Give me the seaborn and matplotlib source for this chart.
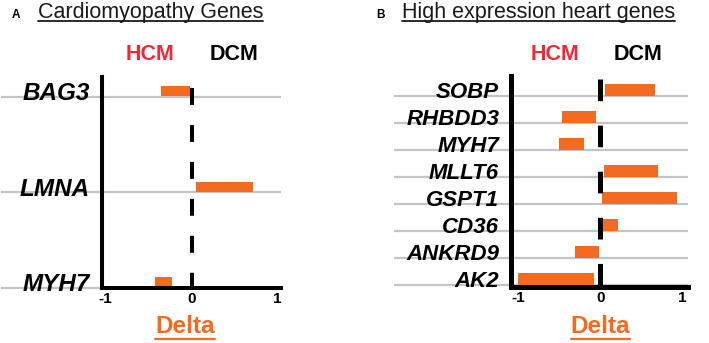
import matplotlib
matplotlib.use("Agg")
import matplotlib.pyplot as plt
import seaborn as sns
import pandas as pd
from matplotlib.lines import Line2D

# Panel A - cardiomyopathy genes (bars run from start to end on the Delta axis)
genes_a = ["BAG3", "LMNA", "MYH7"]
start_a = [-0.36, 0.05, -0.42]
end_a = [-0.02, 0.71, -0.23]

# Panel B - high expression heart genes
genes_b = ["SOBP", "RHBDD3", "MYH7", "MLLT6", "GSPT1", "CD36", "ANKRD9", "AK2"]
start_b = [0.06, -0.47, -0.50, 0.04, 0.02, 0.02, -0.31, -1.00]
end_b = [0.67, -0.05, -0.20, 0.70, 0.93, 0.21, -0.02, -0.08]

xticks = [-1, 0, 1]
xtick_labels = ["-1", "0", "1"]

sns.set_style("white")
plt.rcParams["font.family"] = ["Liberation Sans", "DejaVu Sans"]
plt.rcParams["lines.scale_dashes"] = False
plt.rcParams["text.color"] = "black"
plt.rcParams["xtick.color"] = "black"
plt.rcParams["ytick.color"] = "black"

ORANGE = "#F26B21"
RED = "#EE2A35"
GRAY = "#C4C4C4"

W, H = 709, 343
fig = plt.figure(figsize=(W / 100, H / 100), dpi=100)


def px_axes(left, top, right, bottom):
    return fig.add_axes([left / W, 1 - bottom / H, (right - left) / W, (bottom - top) / H])


def ftext(x, y, s, **kw):
    return fig.text(x / W, 1 - y / H, s, **kw)


def underline(t, y, color, lw):
    fig.canvas.draw()
    bb = t.get_window_extent(fig.canvas.get_renderer())
    fig.add_artist(Line2D([bb.x0 / W, bb.x1 / W], [1 - y / H, 1 - y / H],
                          color=color, lw=lw, transform=fig.transFigure))


def panel(ax, genes, start, end, xlim, ylim, bar_h, line_off, gray_x0,
          dash_y0, dash, lw, label_size):
    df = pd.DataFrame({"gene": genes, "start": start, "end": end})
    df["delta"] = df["end"] - df["start"]
    sns.barplot(data=df, x="delta", y="gene", order=genes, color=ORANGE,
                saturation=1, width=bar_h, errorbar=None, linewidth=0,
                left=df["start"].to_numpy(), ax=ax)
    ax.set_xlim(*xlim)
    ax.set_ylim(*ylim)
    # grey row lines reach out under the gene names
    ax.hlines([i + line_off for i in range(len(genes))], gray_x0, xlim[1],
              color=GRAY, lw=1.6, clip_on=False, zorder=0)
    ax.plot([0, 0], [dash_y0, ylim[0]], color="black", lw=lw, dashes=dash,
            clip_on=False, zorder=3)
    for s in ["top", "right"]:
        ax.spines[s].set_visible(False)
    for s in ["left", "bottom"]:
        ax.spines[s].set_linewidth(lw)
        ax.spines[s].set_color("black")
    ax.set_xticks(xticks)
    ax.set_xticklabels(xtick_labels, fontsize=11, fontweight="bold", color="black")
    ax.set_yticks(range(len(genes)))
    ax.set_yticklabels(genes, fontsize=label_size, fontweight="bold",
                       fontstyle="italic", color="black")
    ax.tick_params(axis="x", length=0, pad=3)
    ax.tick_params(axis="y", length=0, pad=8.5)
    ax.set_xlabel("")
    ax.set_ylabel("")
    ax.set_facecolor("none")


ax_a = px_axes(102, 77, 281, 288)
panel(ax_a, genes_a, start_a, end_a, xlim=(-1.04, 1.04), ylim=(2.06, -0.15),
      bar_h=0.105, line_off=0.058, gray_x0=-2.21, dash_y0=-0.033,
      dash=(12.2, 14.4), lw=2.9, label_size=17.5)

ax_b = px_axes(511, 76, 688, 287)
panel(ax_b, genes_b, start_b, end_b, xlim=(-1.09, 1.07), ylim=(7.28, -0.505),
      bar_h=0.45, line_off=0.22, gray_x0=-2.52, dash_y0=-0.39,
      dash=(15.6, 17.6), lw=3.6, label_size=16)

# panel letters and titles
ftext(15.5, 18, "A", fontsize=8.5, fontweight="bold", ha="center", va="baseline")
ta = ftext(38, 18.3, "Cardiomyopathy Genes", fontsize=15.5, color="#1a1a1a",
           ha="left", va="baseline")
ftext(380, 18, "B", fontsize=8.5, fontweight="bold", ha="center", va="baseline")
tb = ftext(402, 18.3, "High expression heart genes", fontsize=15.5, color="#1a1a1a",
           ha="left", va="baseline")

for x_h, x_d in [(150, 234), (555, 638)]:
    ftext(x_h, 60, "HCM", fontsize=15.5, fontweight="bold", color=RED, ha="center", va="baseline")
    ftext(x_d, 60, "DCM", fontsize=15.5, fontweight="bold", color="black", ha="center", va="baseline")

da = ftext(185, 333, "Delta", fontsize=17.5, fontweight="bold", color=ORANGE, ha="center", va="baseline")
db = ftext(600.5, 333, "Delta", fontsize=17.5, fontweight="bold", color=ORANGE, ha="center", va="baseline")

underline(ta, 21, "#1a1a1a", 1.3)
underline(tb, 21, "#1a1a1a", 1.3)
underline(da, 338.5, ORANGE, 1.6)
underline(db, 338.5, ORANGE, 1.6)

fig.savefig("out.png", dpi=100)
